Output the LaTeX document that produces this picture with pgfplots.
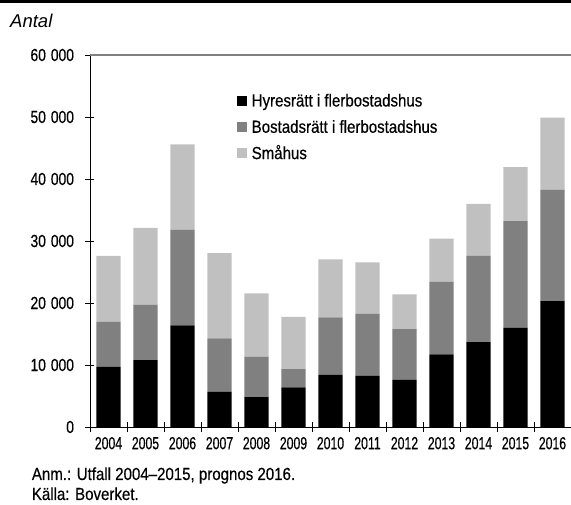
\documentclass[border=0pt]{standalone}
\usepackage{fontspec}
\setmainfont[FakeStretch=0.86,FakeBold=0.4]{Liberation Sans}
\newfontfamily\tickfont[FakeStretch=0.7,FakeBold=0.4]{Liberation Sans}
\newfontfamily\ytickfont[FakeStretch=0.79,FakeBold=0.4]{Liberation Sans}
\newfontfamily\italfont{Liberation Sans}
\usepackage{pgfplots}
\pgfplotsset{compat=1.18}
\usepackage{pgfplotstable}

\definecolor{midgray}{HTML}{808080}
\definecolor{lightgray}{HTML}{C0C0C0}
\newcommand\fs{\fontsize{17.5pt}{20pt}\selectfont}

\pgfplotstableread{
year hyres bostad smahus
0 9700 7300 10600
1 10800 8900 12400
2 16400 15400 13800
3 5650 8650 13750
4 4800 6550 10200
5 6400 2950 8400
6 8400 9300 9350
7 8250 10000 8300
8 7600 8200 5600
9 11700 11700 7000
10 13700 13900 8400
11 16000 17200 8700
12 20300 18000 11600
}\data

\begin{document}
\begin{tikzpicture}
\useasboundingbox (0,0) rectangle (571pt,505pt);
\fill[black] (0,502pt) rectangle (571pt,505pt);
\begin{axis}[
  at={(90pt,78pt)}, anchor=south west,
  scale only axis, width=481pt, height=372pt,
  xmin=-0.5, xmax=12.5, ymin=0, ymax=60000,
  scaled y ticks=false,
  ybar stacked, bar width=0.66,
  axis x line*=bottom, axis y line*=left,
  axis line style={black, line width=0.8pt},
  xtick={0,...,12},
  xticklabels={2004,2005,2006,2007,2008,2009,2010,2011,2012,2013,2014,2015,2016},
  major x tick style={draw=none},
  minor xtick={-0.5,0.5,...,12.5},
  minor tick length=10pt,
  ytick={0,10000,20000,30000,40000,50000,60000},
  yticklabels={0,10\hspace{5pt}000,20\hspace{5pt}000,30\hspace{5pt}000,40\hspace{5pt}000,50\hspace{5pt}000,60\hspace{5pt}000},
  major tick length=9pt,
  tick align=center,
  tick style={black, line width=0.6pt},
  xticklabel style={font=\tickfont\fs, yshift=-2pt},
  yticklabel style={font=\ytickfont\fs, xshift=-8pt},
  legend style={at={(0.305,0.8925)}, anchor=north west, draw=none, fill=none,
    inner sep=0pt, outer sep=0pt, row sep=14.8pt, column sep=5pt,
    nodes={inner sep=0pt, text height=11.5pt, text depth=0pt, font=\fs}},
  legend cell align=left,
  clip=false,
]
\addplot[fill=black, draw=none, legend image code/.code={\fill[black] (0pt,-5pt) rectangle (10pt,5pt);}] table[x=year,y=hyres]{\data};
\addplot[fill=midgray, draw=none, legend image code/.code={\fill[midgray] (0pt,-5pt) rectangle (10pt,5pt);}] table[x=year,y=bostad]{\data};
\addplot[fill=lightgray, draw=none, legend image code/.code={\fill[lightgray] (0pt,-5pt) rectangle (10pt,5pt);}] table[x=year,y=smahus]{\data};
\legend{Hyresrätt i flerbostadshus, Bostadsrätt i flerbostadshus, Småhus}
\draw[midgray, line width=1.6pt] (rel axis cs:0,1) -- (rel axis cs:1,1);
\end{axis}
\node[anchor=base west, inner sep=0pt, font=\italfont\itshape\fontsize{18.5pt}{21pt}\selectfont] at (10pt,477.7pt) {Antal};
\node[anchor=base west, inner sep=0pt, font=\fs] at (31.7pt,25pt) {Anm.: Utfall 2004--2015, prognos 2016.};
\node[anchor=base west, inner sep=0pt, font=\fs] at (31.7pt,5pt) {Källa: Boverket.};
\end{tikzpicture}
\end{document}
